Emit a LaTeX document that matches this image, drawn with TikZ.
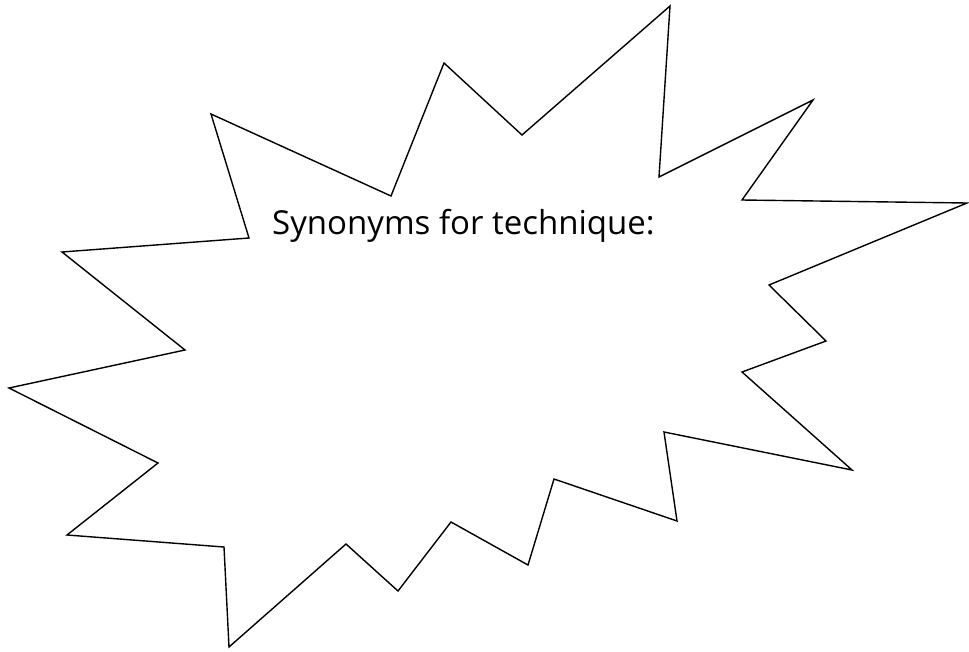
\documentclass[tikz,border=0pt]{standalone}
\usepackage{fontspec}
\setmainfont{Open Sans}
\begin{document}
\begin{tikzpicture}[x=1pt,y=-1pt,
  burst/.style={draw=black,line width=1.4pt,line join=miter,fill=white},
  label/.style={anchor=base west,inner sep=0pt,font=\fontsize{33}{38}\selectfont}]
\useasboundingbox (0,0) rectangle (969,651);
\draw[burst] (670,6) -- (659,177) -- (813,100) -- (742,200) -- (967,203)
  -- (769,285) -- (826,341) -- (742,372) -- (852,470) -- (664,432)
  -- (677,521) -- (554,479) -- (528,565) -- (451,522) -- (398,591)
  -- (346,544) -- (229,647) -- (224,547) -- (67,535) -- (158,463)
  -- (9,388) -- (185,350) -- (62,252) -- (249,238) -- (211,114)
  -- (391,196) -- (444,63) -- (522,135) -- cycle;
\node[label] (title) at (272,234) {Synonyms for technique:};
\end{tikzpicture}
\end{document}
